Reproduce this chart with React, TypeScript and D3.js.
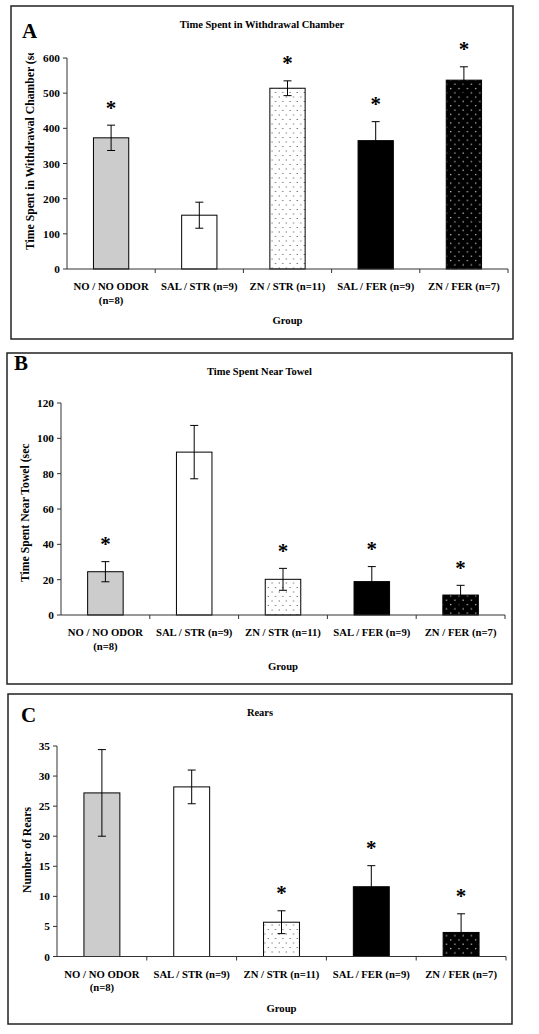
import React from 'react';
import * as d3 from 'd3';

const groups = ["NO / NO ODOR", "SAL / STR (n=9)", "ZN / STR (n=11)", "SAL / FER (n=9)", "ZN / FER (n=7)"];
const groupLine2 = ["(n=8)", "", "", "", ""];
const xTitle = "Group";

const withdrawalTitle = "Time Spent in Withdrawal Chamber";
const withdrawalYLabel = "Time Spent in Withdrawal Chamber (sec";
const withdrawalMeans = [373, 153, 514, 365, 537];
const withdrawalErr = [36, 37, 21, 54, 38];
const withdrawalStars = [true, false, true, true, true];
const withdrawalTicks = [0, 100, 200, 300, 400, 500, 600];

const towelTitle = "Time Spent Near Towel";
const towelYLabel = "Time Spent Near Towel (sec";
const towelMeans = [24.5, 92.2, 20.2, 18.9, 11.3];
const towelErr = [5.7, 15.1, 6.2, 8.5, 5.5];
const towelStars = [true, false, true, true, true];
const towelTicks = [0, 20, 40, 60, 80, 100, 120];

const rearsTitle = "Rears";
const rearsYLabel = "Number of Rears";
const rearsMeans = [27.2, 28.2, 5.7, 11.6, 4.0];
const rearsErr = [7.2, 2.8, 1.9, 3.5, 3.1];
const rearsStars = [false, false, true, true, true];
const rearsTicks = [0, 5, 10, 15, 20, 25, 30, 35];

const fills = ["#cccccc", "#ffffff", "url(#dotsLight)", "#000000", "url(#dotsDark)"];
const FONT = "'Liberation Serif', 'Times New Roman', serif";

type PanelProps = {
  id: string;
  letter: string;
  title: string;
  yLabel: string;
  means: number[];
  errs: number[];
  stars: boolean[];
  ticks: number[];
  frame: { x: number; y: number; w: number; h: number };
  plot: { left: number; right: number; top: number; bottom: number };
  letterPos: { x: number; y: number };
  yLabelPos: { x: number; start: number; clipTop: number; centered?: boolean };
};

function Panel(p: PanelProps) {
  const yMax = p.ticks[p.ticks.length - 1];
  const y = d3.scaleLinear().domain([0, yMax]).range([p.plot.bottom, p.plot.top]);
  const x = d3.scaleBand<string>().domain(groups).range([p.plot.left, p.plot.right]).paddingInner(0.6).paddingOuter(0.3);
  const step = x.step();
  const clipId = `clip-${p.id}`;
  const cx = p.frame.x + p.frame.w / 2;
  return (
    <g>
      <defs>
        <clipPath id={clipId}>
          <rect x={0} y={p.yLabelPos.clipTop} width={p.plot.left - 10} height={p.plot.bottom - p.yLabelPos.clipTop + 30} />
        </clipPath>
      </defs>
      <rect x={p.frame.x} y={p.frame.y} width={p.frame.w} height={p.frame.h} fill="#fff" stroke="#222" strokeWidth={1.5} />
      <text x={p.letterPos.x} y={p.letterPos.y} fontFamily={FONT} fontWeight="bold" fontSize={21}>{p.letter}</text>
      <text x={cx} y={p.frame.y + 22} textAnchor="middle" fontFamily={FONT} fontWeight="bold" fontSize={10.5}>{p.title}</text>
      {/* bars */}
      {groups.map((g, i) => {
        const bx = x(g)!;
        const bw = x.bandwidth();
        const m = p.means[i];
        const e = p.errs[i];
        const mid = bx + bw / 2;
        const yTop = y(m + e);
        const yBot = y(m - e);
        return (
          <g key={g}>
            <rect x={bx} y={y(m)} width={bw} height={y(0) - y(m)} fill={fills[i]} stroke="#000" strokeWidth={1} />
            <line x1={mid} x2={mid} y1={yTop} y2={yBot} stroke="#000" strokeWidth={1} />
            <line x1={mid - 4} x2={mid + 4} y1={yTop} y2={yTop} stroke="#000" strokeWidth={1} />
            <line x1={mid - 4} x2={mid + 4} y1={yBot} y2={yBot} stroke="#000" strokeWidth={1} />
            {p.stars[i] && (
              <text x={mid} y={yTop - 20 + 9.5} textAnchor="middle" fontFamily={FONT} fontWeight="bold" fontSize={21}>*</text>
            )}
          </g>
        );
      })}
      {/* y axis */}
      <line x1={p.plot.left} x2={p.plot.left} y1={p.plot.top} y2={p.plot.bottom} stroke="#333" strokeWidth={1} />
      {p.ticks.map((t) => (
        <g key={t}>
          <line x1={p.plot.left - 4} x2={p.plot.left} y1={y(t)} y2={y(t)} stroke="#333" strokeWidth={1} />
          <text x={p.plot.left - 7} y={y(t) + 4} textAnchor="end" fontFamily={FONT} fontWeight="bold" fontSize={11.3}>{t}</text>
        </g>
      ))}
      {/* x axis */}
      <line x1={p.plot.left} x2={p.plot.right} y1={p.plot.bottom} y2={p.plot.bottom} stroke="#333" strokeWidth={1} />
      {groups.map((g, i) => (
        <line key={g} x1={p.plot.left + (i + 1) * step} x2={p.plot.left + (i + 1) * step} y1={p.plot.bottom} y2={p.plot.bottom + 4} stroke="#333" strokeWidth={1} />
      ))}
      {groups.map((g, i) => {
        const mid = x(g)! + x.bandwidth() / 2;
        return (
          <g key={g}>
            <text x={mid} y={p.plot.bottom + 21} textAnchor="middle" fontFamily={FONT} fontWeight="bold" fontSize={10.7}>{g}</text>
            {groupLine2[i] && (
              <text x={mid} y={p.plot.bottom + 34.5} textAnchor="middle" fontFamily={FONT} fontWeight="bold" fontSize={10.7}>{groupLine2[i]}</text>
            )}
          </g>
        );
      })}
      <text x={(p.plot.left + p.plot.right) / 2} y={p.plot.bottom + 55} textAnchor="middle" fontFamily={FONT} fontWeight="bold" fontSize={10.7}>{xTitle}</text>
      {/* y label */}
      <g clipPath={`url(#${clipId})`}>
        <text
          transform={`translate(${p.yLabelPos.x},${p.yLabelPos.start}) rotate(-90)`}
          textAnchor={p.yLabelPos.centered ? "middle" : "start"}
          fontFamily={FONT}
          fontWeight="bold"
          fontSize={11.7}
        >
          {p.yLabel}
        </text>
      </g>
    </g>
  );
}

export default function App() {
  return (
    <svg width={539} height={1034} style={{ position: 'absolute', left: 0, top: 0, background: '#fff' }}>
      <defs>
        <pattern id="dotsLight" patternUnits="userSpaceOnUse" width={7.2} height={9}>
          <rect width={7.2} height={9} fill="#fff" />
          <rect x={1.5} y={2} width={1} height={1} fill="#444" />
          <rect x={5.1} y={6.5} width={1} height={1} fill="#444" />
        </pattern>
        <pattern id="dotsDark" patternUnits="userSpaceOnUse" width={8.3} height={8.6}>
          <rect width={8.3} height={8.6} fill="#000" />
          <rect x={2} y={2} width={1.1} height={1.1} fill="#fff" />
          <rect x={6.1} y={6.3} width={1.1} height={1.1} fill="#fff" />
        </pattern>
      </defs>
      <rect width={539} height={1034} fill="#fff" />
      <Panel
        id="a"
        letter="A"
        title={withdrawalTitle}
        yLabel={withdrawalYLabel}
        means={withdrawalMeans}
        errs={withdrawalErr}
        stars={withdrawalStars}
        ticks={withdrawalTicks}
        frame={{ x: 11, y: 6, w: 502, h: 333 }}
        plot={{ left: 67, right: 508, top: 58, bottom: 269 }}
        letterPos={{ x: 22, y: 38 }}
        yLabelPos={{ x: 34, start: 250, clipTop: 53 }}
      />
      <Panel
        id="b"
        letter="B"
        title={towelTitle}
        yLabel={towelYLabel}
        means={towelMeans}
        errs={towelErr}
        stars={towelStars}
        ticks={towelTicks}
        frame={{ x: 7, y: 353, w: 505, h: 331 }}
        plot={{ left: 61, right: 505, top: 403, bottom: 615 }}
        letterPos={{ x: 14, y: 370 }}
        yLabelPos={{ x: 29, start: 582, clipTop: 432 }}
      />
      <Panel
        id="c"
        letter="C"
        title={rearsTitle}
        yLabel={rearsYLabel}
        means={rearsMeans}
        errs={rearsErr}
        stars={rearsStars}
        ticks={rearsTicks}
        frame={{ x: 8, y: 694, w: 504, h: 330 }}
        plot={{ left: 57, right: 506, top: 746, bottom: 956.5 }}
        letterPos={{ x: 21, y: 722 }}
        yLabelPos={{ x: 31, start: 850, clipTop: 700, centered: true }}
      />
    </svg>
  );
}
